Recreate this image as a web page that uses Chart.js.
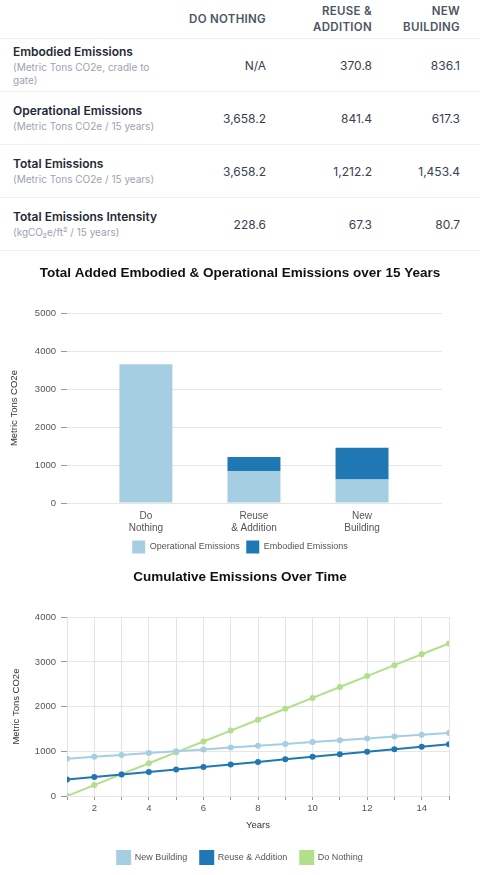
<!DOCTYPE html>
<html>
<head>
<meta charset="utf-8">
<title>Emissions comparison</title>
<script src="https://cdn.jsdelivr.net/npm/chart.js@4.4.1/dist/chart.umd.min.js"></script>
<style>
    body { margin: 0; width: 480px; background: #fff; font-family: Inter, "Noto Sans", sans-serif; }
    table { width: 480px; border-collapse: collapse; table-layout: fixed; }
    th {
        height: 38px; padding: 0 12px 0 0; text-align: right; vertical-align: middle;
        font-size: 11.5px; font-weight: 600; line-height: 16px; letter-spacing: 0.3px;
        color: #4b5563; text-transform: uppercase; border-bottom: 1px solid #eef0f2;
    }
    td {
        height: 52px; padding: 0 12px 0 0; text-align: right; vertical-align: middle;
        font-size: 12px; color: #374151; border-bottom: 1px solid #eef0f2;
    }
    th:last-child, td:last-child { padding-right: 20px; }
    td.label { text-align: left; padding-left: 13px; padding-right: 4px; }
    .label b { display: block; font-size: 12px; font-weight: 600; color: #1f2937; white-space: nowrap; line-height: 16px; }
    .label span { display: block; font-size: 10px; color: #9ca3af; line-height: 13px; margin-top: 1px; }
    .chart-box { position: relative; width: 480px; }
</style>
</head>
<body>
<table id="summary">
    <colgroup><col style="width:170px"><col style="width:108px"><col style="width:106px"><col style="width:96px"></colgroup>
    <thead><tr id="head-row"><th></th></tr></thead>
    <tbody id="summary-body"></tbody>
</table>
<div class="chart-box" style="height:310px"><canvas id="bar-chart"></canvas></div>
<div class="chart-box" style="height:315px"><canvas id="line-chart"></canvas></div>

<script>
    // Scenarios
    var scenarios = ['Do Nothing', 'Reuse & Addition', 'New Building'];
    var scenarioLines = [['Do', 'Nothing'], ['Reuse', '& Addition'], ['New', 'Building']];

    // Summary table values (per scenario)
    var embodied = [null, 370.8, 836.1];
    var operational = [3658.2, 841.4, 617.3];
    var totalEmissions = [3658.2, 1212.2, 1453.4];
    var intensity = [228.6, 67.3, 80.7];

    var rowTitles = ['Embodied Emissions', 'Operational Emissions', 'Total Emissions', 'Total Emissions Intensity'];
    var rowUnits = ['(Metric Tons CO2e, cradle to gate)', '(Metric Tons CO2e / 15 years)', '(Metric Tons CO2e / 15 years)', '(kgCO\u2082e/ft\u00b2 / 15 years)'];

    // Cumulative emissions by year
    var years = [1, 2, 3, 4, 5, 6, 7, 8, 9, 10, 11, 12, 13, 14, 15];
    var newBuilding = [836, 877, 918, 960, 1001, 1042, 1083, 1124, 1165, 1207, 1248, 1289, 1330, 1371, 1412];
    var reuseAddition = [371, 427, 483, 539, 595, 651, 707, 763, 820, 876, 932, 988, 1044, 1100, 1156];
    var doNothing = [0, 244, 488, 732, 976, 1219, 1463, 1707, 1951, 2195, 2439, 2683, 2927, 3170, 3414];

    var lightBlue = '#a6cee3';
    var darkBlue = '#1f78b4';
    var green = '#b2df8a';

    // Build the table
    var fmt = function (v) {
        if (v === null) return 'N/A';
        return v.toLocaleString('en-US', { minimumFractionDigits: 1, maximumFractionDigits: 1 });
    };
    var headRow = document.getElementById('head-row');
    scenarios.forEach(function (s) {
        var th = document.createElement('th');
        th.textContent = s;
        headRow.appendChild(th);
    });
    var body = document.getElementById('summary-body');
    [embodied, operational, totalEmissions, intensity].forEach(function (row, r) {
        var tr = document.createElement('tr');
        var td = document.createElement('td');
        td.className = 'label';
        td.innerHTML = '<b></b><span></span>';
        td.querySelector('b').textContent = rowTitles[r];
        td.querySelector('span').textContent = rowUnits[r];
        tr.appendChild(td);
        row.forEach(function (v) {
            var cell = document.createElement('td');
            cell.textContent = fmt(v);
            tr.appendChild(cell);
        });
        body.appendChild(tr);
    });

    Chart.defaults.font.family = '"Liberation Sans", Arial, sans-serif';
    Chart.defaults.color = '#555';
    Chart.defaults.animation = false;

    var titleFont = { size: 13.5, weight: 'bold' };
    var tickFont = { size: 9.5 };
    var axisTitleFont = { size: 9.5 };
    var legendLabels = { boxWidth: 13, boxHeight: 13, color: '#555', font: { size: 9 } };

    // empty axis on the right so the plot stops short of the edge while titles stay centred
    var spacerAxis = function (w) {
        return {
            type: 'linear',
            position: 'right',
            display: true,
            grid: { display: false, drawTicks: false },
            border: { display: false },
            ticks: { display: false },
            afterFit: function (scale) { scale.width = w; }
        };
    };
    var plainNumber = function (v) { return String(v); };

    // Stacked bar chart
    new Chart(document.getElementById('bar-chart').getContext('2d'), {
        type: 'bar',
        data: {
            labels: scenarios.map(function (s, i) { return i; }),
            datasets: [{
                label: 'Operational Emissions',
                data: operational,
                backgroundColor: lightBlue
            }, {
                label: 'Embodied Emissions',
                data: embodied,
                backgroundColor: darkBlue
            }]
        },
        options: {
            responsive: true,
            maintainAspectRatio: false,
            layout: { padding: { left: 0, right: 0, top: 0, bottom: -2.5 } },
            datasets: { bar: { categoryPercentage: 0.49, barPercentage: 1 } },
            plugins: {
                title: {
                    display: true,
                    text: 'Total Added Embodied & Operational Emissions over 15 Years',
                    color: '#111',
                    font: titleFont,
                    padding: { top: 14, bottom: 32 }
                },
                legend: {
                    position: 'bottom',
                    labels: Object.assign({ padding: 6.5 }, legendLabels)
                },
                tooltip: { enabled: false }
            },
            scales: {
                x: {
                    type: 'linear',
                    stacked: true,
                    offset: false,
                    min: -0.73,
                    max: 2.74,
                    grid: { display: false, drawTicks: false, offset: false },
                    border: { display: false },
                    afterBuildTicks: function (scale) {
                        scale.ticks = scenarios.map(function (s, i) { return { value: i }; });
                    },
                    afterFit: function (scale) { scale.height = 31; },
                    ticks: {
                        padding: 7,
                        color: '#555',
                        font: { size: 10, lineHeight: 1.2 },
                        maxRotation: 0,
                        callback: function (v) { return scenarioLines[v]; }
                    }
                },
                y: {
                    stacked: true,
                    min: 0,
                    max: 5000,
                    ticks: { stepSize: 1000, padding: 5, color: '#555', font: tickFont, callback: plainNumber },
                    grid: { color: '#e6e6e6', tickColor: '#999', tickLength: 6 },
                    border: { display: false },
                    title: {
                        display: true,
                        text: 'Metric Tons CO2e',
                        color: '#333',
                        font: axisTitleFont,
                        padding: { top: 9, bottom: 0 }
                    },
                    afterFit: function (scale) { scale.width = 67; }
                },
                spacer: spacerAxis(38)
            }
        }
    });

    // Cumulative line chart
    var lineSet = function (label, values, color) {
        return {
            label: label,
            data: values,
            borderColor: color,
            backgroundColor: color,
            borderWidth: 2,
            pointRadius: 3,
            pointBorderWidth: 0,
            pointBackgroundColor: color,
            tension: 0
        };
    };

    new Chart(document.getElementById('line-chart').getContext('2d'), {
        type: 'line',
        data: {
            labels: years,
            datasets: [
                lineSet('New Building', newBuilding, lightBlue),
                lineSet('Reuse & Addition', reuseAddition, darkBlue),
                lineSet('Do Nothing', doNothing, green)
            ]
        },
        options: {
            responsive: true,
            maintainAspectRatio: false,
            layout: { padding: { left: 0, right: 0, top: 0, bottom: 2 } },
            plugins: {
                title: {
                    display: true,
                    text: 'Cumulative Emissions Over Time',
                    color: '#111',
                    font: titleFont,
                    padding: { top: 8, bottom: 32 }
                },
                legend: {
                    position: 'bottom',
                    labels: Object.assign({ padding: 13 }, legendLabels)
                },
                tooltip: { enabled: false }
            },
            scales: {
                x: {
                    type: 'linear',
                    min: 1,
                    max: 15,
                    grid: { color: '#e3e3e3', tickColor: '#999', tickLength: 4 },
                    border: { display: false },
                    afterFit: function (scale) { scale.height = 42; },
                    ticks: {
                        stepSize: 1,
                        autoSkip: false,
                        maxRotation: 0,
                        padding: 3,
                        color: '#555',
                        font: tickFont,
                        callback: function (v) { return v % 2 === 0 ? String(v) : ''; }
                    },
                    title: {
                        display: true,
                        text: 'Years',
                        color: '#333',
                        font: axisTitleFont,
                        padding: { top: 4, bottom: 7 }
                    }
                },
                y: {
                    min: 0,
                    max: 4000,
                    ticks: { stepSize: 1000, padding: 5, color: '#555', font: tickFont, callback: plainNumber },
                    grid: { color: '#e6e6e6', tickColor: '#999', tickLength: 6 },
                    border: { display: false },
                    title: {
                        display: true,
                        text: 'Metric Tons CO2e',
                        color: '#333',
                        font: axisTitleFont,
                        padding: { top: 11, bottom: 0 }
                    },
                    afterFit: function (scale) { scale.width = 67; }
                },
                spacer: spacerAxis(31)
            }
        }
    });
</script>
</body>
</html>
